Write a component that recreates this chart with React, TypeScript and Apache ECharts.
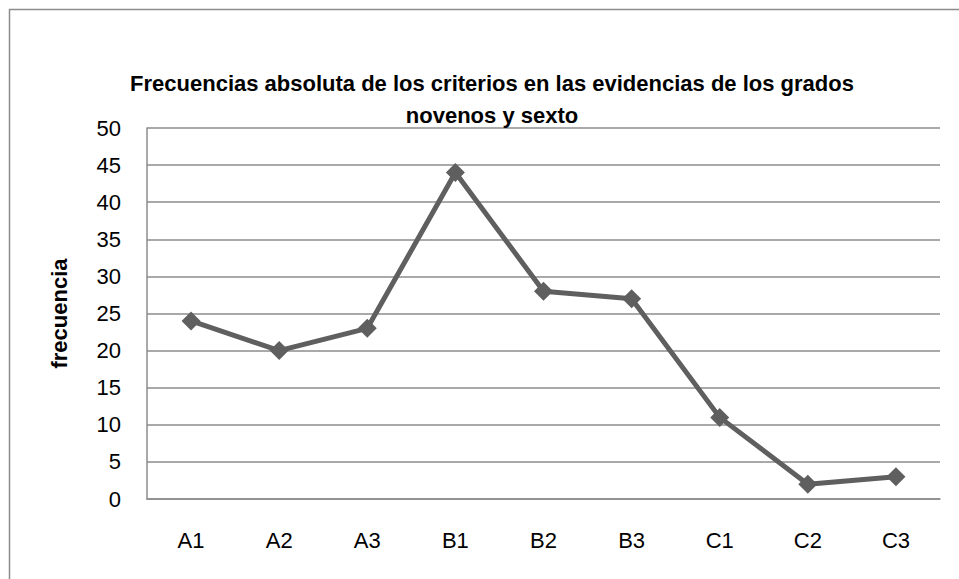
import React, { useEffect, useRef } from "react";
import * as echarts from "echarts";

const categories = ["A1", "A2", "A3", "B1", "B2", "B3", "C1", "C2", "C3"];
const frecuencia = [24, 20, 23, 44, 28, 27, 11, 2, 3];
const titleLines = [
  "Frecuencias absoluta de los criterios en las evidencias de los grados",
  "novenos y sexto",
];
const yAxisName = "frecuencia";

export default function App() {
  const ref = useRef<HTMLDivElement>(null);
  useEffect(() => {
    document.body.style.margin = "0";
    const chart = echarts.init(ref.current!, null, { renderer: "svg" });
    const font = "'Liberation Sans', Arial, sans-serif";
    chart.setOption({
      animation: false,
      backgroundColor: "#ffffff",
      graphic: [
        {
          type: "rect",
          shape: { x: 9.5, y: 9.5, width: 1000, height: 1000 },
          style: { fill: "none", stroke: "#8c8c8c", lineWidth: 1.5 },
          silent: true,
        },
      ],
      title: {
        text: titleLines.join("\n"),
        left: 487,
        top: 62,
        textAlign: "center",
        textStyle: {
          fontFamily: font,
          fontSize: 22,
          fontWeight: "bold",
          color: "#000",
          lineHeight: 32,
        },
      },
      grid: { left: 147, right: 19, top: 128, bottom: 80, containLabel: false },
      xAxis: {
        type: "category",
        data: categories,
        boundaryGap: true,
        axisLine: { lineStyle: { color: "#8c8c8c", width: 1.5 } },
        axisTick: { show: false },
        axisLabel: { fontFamily: font, fontSize: 22, color: "#000", margin: 30 },
      },
      yAxis: {
        type: "value",
        min: 0,
        max: 50,
        interval: 5,
        name: yAxisName,
        nameLocation: "middle",
        nameGap: 77,
        nameTextStyle: { fontFamily: font, fontSize: 22, fontWeight: "bold", color: "#000" },
        axisLine: { show: true, lineStyle: { color: "#8c8c8c", width: 1.5 } },
        axisTick: { show: false },
        axisLabel: { fontFamily: font, fontSize: 22, color: "#000", margin: 26 },
        splitLine: { lineStyle: { color: "#8c8c8c", width: 1.5 } },
      },
      series: [
        {
          type: "line",
          data: frecuencia,
          symbol: "diamond",
          symbolSize: 19,
          lineStyle: { color: "#5f5f5f", width: 5 },
          itemStyle: { color: "#5f5f5f" },
        },
      ],
    });
    return () => chart.dispose();
  }, []);
  return <div ref={ref} style={{ width: 959, height: 579 }} />;
}
